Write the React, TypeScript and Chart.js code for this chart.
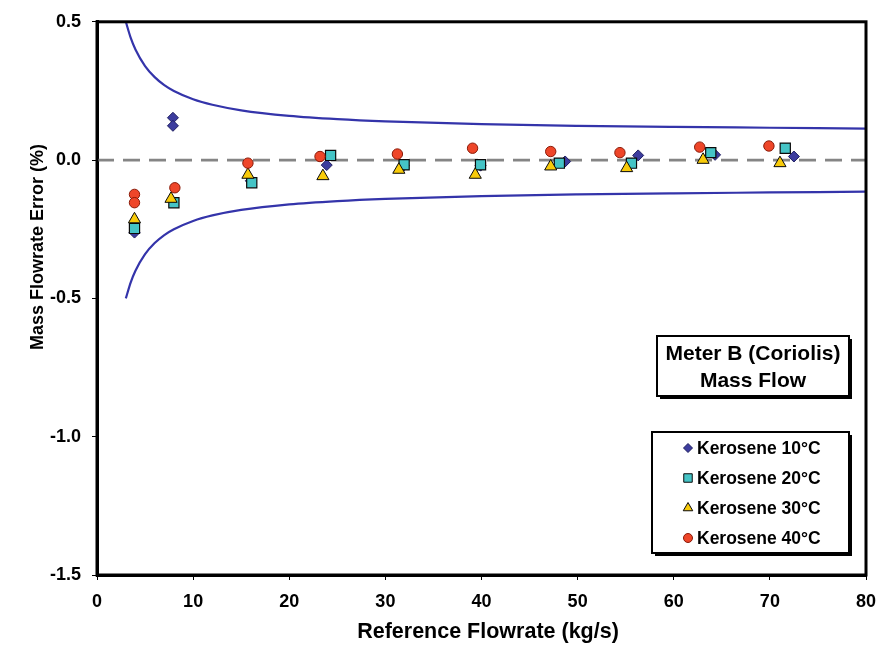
import React, { useEffect, useRef } from 'react';
import { Chart, registerables } from 'chart.js';

Chart.register(...registerables);

// ---------- data ----------
const seriesLabels = ['Kerosene 10°C', 'Kerosene 20°C', 'Kerosene 30°C', 'Kerosene 40°C'];

const flow10 = [3.9, 7.9, 7.9, 16.0, 23.9, 31.9, 39.9, 48.7, 56.3, 64.3, 72.5];
const err10 = [-0.262, 0.153, 0.124, -0.075, -0.018, -0.02, -0.02, -0.005, 0.017, 0.019, 0.013];

const flow20 = [3.9, 8.0, 16.1, 24.3, 31.95, 39.9, 48.1, 55.6, 63.85, 71.6];
const err20 = [-0.247, -0.154, -0.082, 0.017, -0.017, -0.017, -0.011, -0.011, 0.027, 0.043];

const flow30 = [3.9, 7.7, 15.7, 23.5, 31.4, 39.35, 47.2, 55.1, 63.05, 71.05];
const err30 = [-0.214, -0.14, -0.053, -0.058, -0.035, -0.053, -0.023, -0.029, 0.001, -0.011];

const flow40 = [3.9, 3.9, 8.1, 15.7, 23.2, 31.25, 39.07, 47.2, 54.4, 62.7, 69.9];
const err40 = [-0.124, -0.154, -0.1, -0.011, 0.013, 0.022, 0.043, 0.031, 0.027, 0.047, 0.051];

const boundFlow = [3, 3.5, 4, 5, 6, 7, 8, 10, 12, 15, 20, 25, 30, 40, 50, 60, 70, 80];
const upperBound = [0.5, 0.443, 0.4, 0.34, 0.3, 0.271, 0.25, 0.22, 0.2, 0.18, 0.16, 0.148, 0.14, 0.13, 0.124, 0.12, 0.117, 0.114];
const lowerBound = [-0.5, -0.443, -0.4, -0.34, -0.3, -0.271, -0.25, -0.22, -0.2, -0.18, -0.16, -0.148, -0.14, -0.13, -0.124, -0.12, -0.117, -0.114];

const zeroFlow = [0, 80];
const zeroErr = [0, 0];

const xMin = 0, xMax = 80, xStep = 10;
const yMin = -1.5, yMax = 0.5, yStep = 0.5;

const titleLines = ['Meter B (Coriolis)', 'Mass Flow'];
const xTitle = 'Reference Flowrate (kg/s)';
const yTitle = 'Mass Flowrate Error (%)';

// ---------- styles ----------
const FONT = "'Liberation Sans', Arial, Helvetica, sans-serif";
const markerStyles = [
  { pointStyle: 'rectRot', radius: 5.5, bg: '#3C3C9E', border: '#1E1E60', bw: 1 },
  { pointStyle: 'rect', radius: 7.2, bg: '#45C4C6', border: '#0A0A0A', bw: 1.2 },
  { pointStyle: 'triangle', radius: 7, bg: '#F8CB0A', border: '#0A0A0A', bw: 1 },
  { pointStyle: 'circle', radius: 5.2, bg: '#EE4629', border: '#8A1A08', bw: 1 },
];
const boundColor = '#3434AA';

const zip = (xs: number[], ys: number[]) => xs.map((x, i) => ({ x, y: ys[i] }));

function drawMarker(ctx: CanvasRenderingContext2D, style: string, x: number, y: number, r: number, bg: string, border: string) {
  ctx.save();
  ctx.beginPath();
  if (style === 'rectRot') {
    ctx.moveTo(x, y - r); ctx.lineTo(x + r, y); ctx.lineTo(x, y + r); ctx.lineTo(x - r, y); ctx.closePath();
  } else if (style === 'rect') {
    const s = r * Math.SQRT1_2;
    ctx.rect(x - s, y - s, 2 * s, 2 * s);
  } else if (style === 'triangle') {
    ctx.moveTo(x, y - r);
    ctx.lineTo(x + r * 0.866, y + r * 0.5);
    ctx.lineTo(x - r * 0.866, y + r * 0.5);
    ctx.closePath();
  } else {
    ctx.arc(x, y, r, 0, Math.PI * 2);
  }
  ctx.fillStyle = bg; ctx.fill();
  ctx.strokeStyle = border; ctx.lineWidth = 1; ctx.stroke();
  ctx.restore();
}

const decorPlugin = {
  id: 'decor',
  afterDraw(chart: any) {
    const ctx: CanvasRenderingContext2D = chart.ctx;
    const a = chart.chartArea;
    ctx.save();
    // frame
    ctx.strokeStyle = '#000';
    ctx.lineWidth = 3;
    ctx.strokeRect(a.left, a.top, a.right - a.left, a.bottom - a.top);

    // axis titles
    ctx.fillStyle = '#000';
    ctx.textAlign = 'center';
    ctx.textBaseline = 'middle';
    ctx.font = `bold 21.5px ${FONT}`;
    ctx.fillText(xTitle, 488, 632);
    ctx.save();
    ctx.translate(38, 247);
    ctx.rotate(-Math.PI / 2);
    ctx.font = `bold 18px ${FONT}`;
    ctx.fillText(yTitle, 0, 0);
    ctx.restore();

    // title box
    const drawBox = (x: number, y: number, w: number, h: number) => {
      ctx.fillStyle = '#000';
      ctx.fillRect(x + 3, y + 3, w, h);
      ctx.fillStyle = '#fff';
      ctx.fillRect(x, y, w, h);
      ctx.strokeStyle = '#000';
      ctx.lineWidth = 2;
      ctx.strokeRect(x, y, w, h);
    };
    drawBox(657, 336, 192, 60);
    ctx.fillStyle = '#000';
    ctx.font = `bold 21px ${FONT}`;
    ctx.textAlign = 'center';
    ctx.fillText(titleLines[0], 753, 354);
    ctx.fillText(titleLines[1], 753, 381);

    // legend box
    drawBox(652, 432, 197, 121);
    ctx.font = `bold 17.5px ${FONT}`;
    ctx.textAlign = 'left';
    seriesLabels.forEach((lab, i) => {
      const yy = 448 + i * 30;
      const m = markerStyles[i];
      drawMarker(ctx, m.pointStyle, 688, yy, m.pointStyle === 'rect' ? 6 : m.pointStyle === 'triangle' ? 5.5 : 4.5, m.bg, m.border);
      ctx.fillStyle = '#000';
      ctx.fillText(lab, 697, yy + 1);
    });
    ctx.restore();
  },
};

export default function App() {
  const ref = useRef<HTMLCanvasElement | null>(null);
  useEffect(() => {
    if (!ref.current) return;
    const flows = [flow10, flow20, flow30, flow40];
    const errs = [err10, err20, err30, err40];
    const pointSets = seriesLabels.map((label, i) => ({
      type: 'scatter' as const,
      label,
      data: zip(flows[i], errs[i]),
      pointStyle: markerStyles[i].pointStyle,
      pointRadius: markerStyles[i].radius,
      pointBackgroundColor: markerStyles[i].bg,
      pointBorderColor: markerStyles[i].border,
      pointBorderWidth: markerStyles[i].bw,
      showLine: false,
      order: 4 - i,
    }));
    const lineBase = { type: 'scatter' as const, showLine: true, pointRadius: 0, fill: false, order: 10 };
    const chart = new Chart(ref.current, {
      type: 'scatter',
      data: {
        datasets: [
          ...pointSets,
          { ...lineBase, label: 'zero', data: zip(zeroFlow, zeroErr), borderColor: '#858585', borderWidth: 2.8, borderDash: [17, 9] },
          { ...lineBase, label: 'upper', data: zip(boundFlow, upperBound), borderColor: boundColor, borderWidth: 2.2, cubicInterpolationMode: 'monotone' },
          { ...lineBase, label: 'lower', data: zip(boundFlow, lowerBound), borderColor: boundColor, borderWidth: 2.2, cubicInterpolationMode: 'monotone' },
        ] as any,
      },
      options: {
        animation: false,
        responsive: false,
        devicePixelRatio: 1,
        layout: { padding: { top: 18, right: 24, left: 0, bottom: 0 } },
        plugins: { legend: { display: false }, tooltip: { enabled: false } },
        scales: {
          x: {
            type: 'linear',
            min: xMin, max: xMax,
            afterFit: (s: any) => { s.height = 71; },
            ticks: { stepSize: xStep, color: '#000', font: { family: FONT, size: 18, weight: 'bold' }, padding: 11 },
            grid: { drawOnChartArea: false, drawTicks: true, tickLength: 5, color: '#000', lineWidth: 1 },
            border: { display: true, color: '#000', width: 3 },
          },
          y: {
            type: 'linear',
            min: yMin, max: yMax,
            afterFit: (s: any) => { s.width = 97; },
            ticks: { stepSize: yStep, color: '#000', font: { family: FONT, size: 18, weight: 'bold' }, padding: 11, callback: (v: any) => Number(v).toFixed(1) },
            grid: { drawOnChartArea: false, drawTicks: true, tickLength: 5, color: '#000', lineWidth: 1 },
            border: { display: true, color: '#000', width: 3 },
          },
        },
      } as any,
      plugins: [decorPlugin],
    });
    return () => chart.destroy();
  }, []);
  return (
    <div style={{ position: 'fixed', left: 0, top: 0, width: 890, height: 646, background: '#fff' }}>
      <canvas ref={ref} width={890} height={646} style={{ display: 'block', width: 890, height: 646 }} />
    </div>
  );
}
